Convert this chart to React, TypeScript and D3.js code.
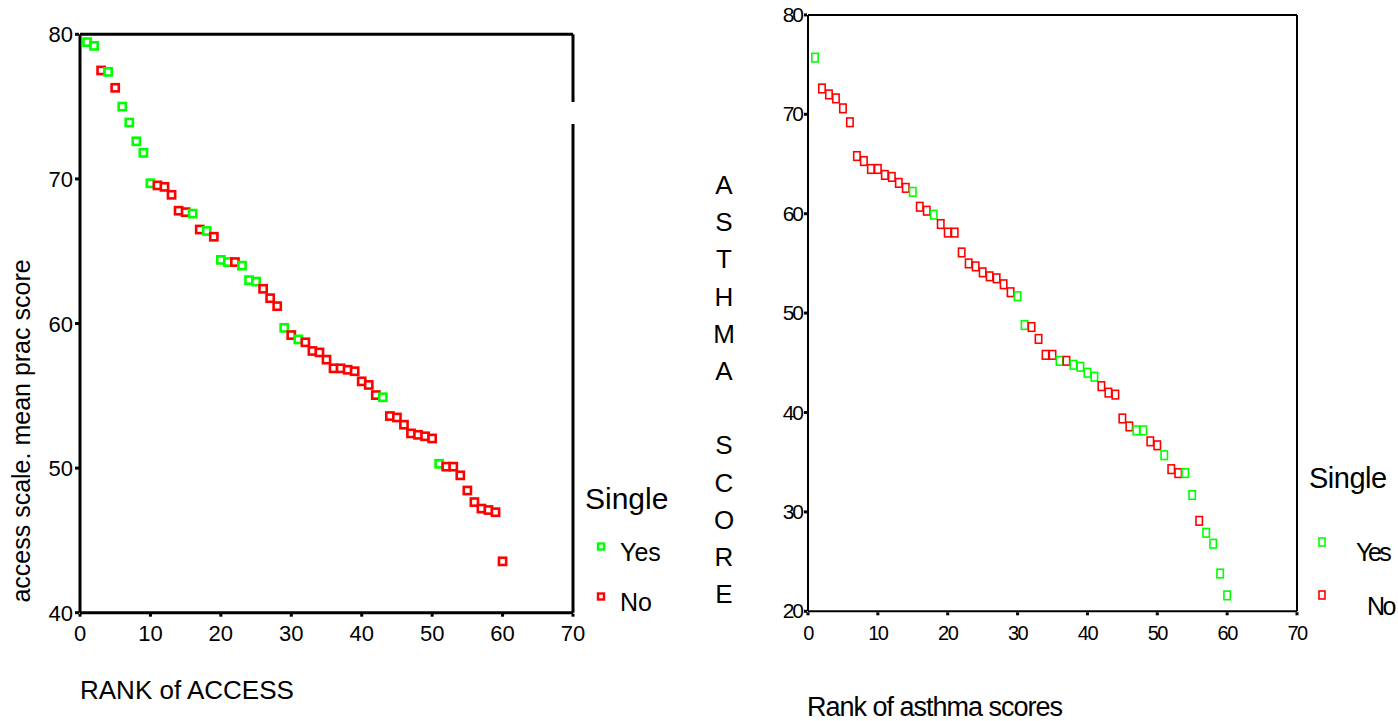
import React from "react";
import * as d3 from "d3";

// ---------- data ----------
const leftValues = [
  79.46, 79.2, 77.5, 77.4, 76.3, 75.0, 73.9, 72.6, 71.8, 69.7,
  69.55, 69.45, 68.9, 67.8, 67.7, 67.6, 66.5, 66.4, 66.0, 64.4,
  64.25, 64.25, 64.0, 63.0, 62.9, 62.4, 61.75, 61.2, 59.7, 59.2,
  58.9, 58.7, 58.1, 58.0, 57.5, 56.9, 56.9, 56.8, 56.7, 56.0,
  55.75, 55.05, 54.9, 53.6, 53.5, 53.0, 52.4, 52.3, 52.2, 52.05,
  50.3, 50.1, 50.1, 49.5, 48.45, 47.65, 47.2, 47.1, 46.95, 43.55,
];
const leftSingle = [
  "Yes", "Yes", "No", "Yes", "No", "Yes", "Yes", "Yes", "Yes", "Yes",
  "No", "No", "No", "No", "No", "Yes", "No", "Yes", "No", "Yes",
  "Yes", "No", "Yes", "Yes", "Yes", "No", "No", "No", "Yes", "No",
  "Yes", "No", "No", "No", "No", "No", "No", "No", "No", "No",
  "No", "No", "Yes", "No", "No", "No", "No", "No", "No", "No",
  "Yes", "No", "No", "No", "No", "No", "No", "No", "No", "No",
];
const rightValues = [
  75.7, 72.6, 72.0, 71.6, 70.6, 69.2, 65.8, 65.3, 64.5, 64.5,
  63.9, 63.7, 63.1, 62.6, 62.2, 60.7, 60.3, 59.9, 58.96, 58.1,
  58.1, 56.1, 55.0, 54.7, 54.1, 53.7, 53.5, 52.9, 52.1, 51.7,
  48.8, 48.6, 47.4, 45.8, 45.8, 45.2, 45.2, 44.8, 44.6, 44.0,
  43.6, 42.65, 42.0, 41.8, 39.4, 38.6, 38.2, 38.2, 37.1, 36.7,
  35.7, 34.3, 33.9, 33.9, 31.7, 29.1, 27.9, 26.8, 23.8, 21.6,
];
const rightSingle = [
  "Yes", "No", "No", "No", "No", "No", "No", "No", "No", "No",
  "No", "No", "No", "No", "Yes", "No", "No", "Yes", "No", "No",
  "No", "No", "No", "No", "No", "No", "No", "No", "No", "Yes",
  "Yes", "No", "No", "No", "No", "Yes", "No", "Yes", "Yes", "Yes",
  "Yes", "No", "No", "No", "No", "No", "Yes", "Yes", "No", "No",
  "Yes", "No", "No", "Yes", "Yes", "No", "Yes", "Yes", "Yes", "Yes",
];
const xTicks = [0, 10, 20, 30, 40, 50, 60, 70];
const leftYTicks = [40, 50, 60, 70, 80];
const rightYTicks = [20, 30, 40, 50, 60, 70, 80];
const legendItems = ["Yes", "No"];
const yAxisLetters = ["A", "S", "T", "H", "M", "A", "", "S", "C", "O", "R", "E"];

const colorOf = (g: string) => (g === "Yes" ? "#00ff00" : "#ff0000");
const FONT = "Arial, 'Liberation Sans', Helvetica, sans-serif";

export default function App() {
  // left chart scales
  const lx = d3.scaleLinear().domain([0, 70]).range([80, 573]);
  const ly = d3.scaleLinear().domain([40, 80]).range([612.7, 34.3]);
  // right chart scales
  const rx = d3.scaleLinear().domain([0, 70]).range([808, 1297]);
  const ry = d3.scaleLinear().domain([20, 80]).range([611.3, 14.9]);

  const lLeft = lx(0), lRight = lx(70), lTop = ly(80), lBottom = ly(40);
  const rLeft = rx(0), rRight = rx(70), rTop = ry(80), rBottom = ry(20);

  return (
    <svg
      width={1398}
      height={721}
      style={{ position: "absolute", left: 0, top: 0, background: "#fff" }}
      fontFamily={FONT}
    >
      <rect x={0} y={0} width={1398} height={721} fill="#fff" />

      {/* ---------------- LEFT CHART ---------------- */}
      <g>
        <line x1={lLeft} y1={lTop} x2={lRight} y2={lTop} stroke="#000" strokeWidth={3} />
        <line x1={lLeft} y1={lTop} x2={lLeft} y2={lBottom} stroke="#000" strokeWidth={3} />
        <line x1={lLeft} y1={lBottom} x2={lRight} y2={lBottom} stroke="#000" strokeWidth={3} />
        <line x1={lRight} y1={lTop} x2={lRight} y2={102} stroke="#000" strokeWidth={3} />
        <line x1={lRight} y1={124} x2={lRight} y2={lBottom} stroke="#000" strokeWidth={3} />

        {leftYTicks.map((t) => (
          <g key={"ly" + t}>
            <rect x={lLeft - 5} y={ly(t) - 1.5} width={4} height={3} fill="#000" />
            <text x={lLeft - 7} y={ly(t) + 8} fontSize={22} textAnchor="end" fill="#000">
              {t}
            </text>
          </g>
        ))}
        {xTicks.map((t) => (
          <g key={"lx" + t}>
            <rect x={lx(t) - 1.5} y={lBottom + 1} width={3} height={3} fill="#000" />
            <text x={lx(t)} y={641} fontSize={22} textAnchor="middle" fill="#000">
              {t}
            </text>
          </g>
        ))}

        {leftValues.map((v, i) => (
          <rect
            key={"lp" + i}
            x={lx(i + 1) - 3.6}
            y={ly(v) - 3.6}
            width={7.2}
            height={7.2}
            fill="#fff"
            stroke={colorOf(leftSingle[i])}
            strokeWidth={2.6}
          />
        ))}

        <text
          transform={`translate(30, 431) rotate(-90)`}
          fontSize={25}
          textAnchor="middle"
          fill="#000"
        >
          access scale. mean prac score
        </text>
        <text x={80} y={699} fontSize={26} fill="#000">
          RANK of ACCESS
        </text>

        {/* legend */}
        <text x={585} y={509} fontSize={30} fill="#000">
          Single
        </text>
        {legendItems.map((g, i) => (
          <g key={"ll" + g}>
            <rect
              x={601 - 3}
              y={546.5 + i * 50 - 3}
              width={6}
              height={6}
              fill="#fff"
              stroke={colorOf(g)}
              strokeWidth={2.4}
            />
            <text x={620} y={561 + i * 50} fontSize={25} fill="#000">
              {g}
            </text>
          </g>
        ))}
      </g>

      {/* ---------------- RIGHT CHART ---------------- */}
      <g>
        <line x1={rLeft} y1={rTop} x2={rRight} y2={rTop} stroke="#000" strokeWidth={2} />
        <line x1={rLeft} y1={rTop} x2={rLeft} y2={rBottom} stroke="#000" strokeWidth={2} />
        <line x1={rLeft} y1={rBottom} x2={rRight} y2={rBottom} stroke="#000" strokeWidth={2} />
        <line x1={rRight} y1={rTop} x2={rRight} y2={rBottom} stroke="#000" strokeWidth={2} />

        {rightYTicks.map((t) => (
          <g key={"ry" + t}>
            <rect x={rLeft - 4} y={ry(t) - 1.5} width={3} height={3} fill="#000" />
            <text
              x={rLeft - 6}
              y={ry(t) + 7}
              fontSize={21}
              textAnchor="end"
              letterSpacing={-2}
              fill="#000"
            >
              {t}
            </text>
          </g>
        ))}
        {xTicks.map((t) => (
          <g key={"rx" + t}>
            <rect x={rx(t) - 1.5} y={rBottom + 1} width={3} height={3} fill="#000" />
            <text
              x={rx(t)}
              y={640}
              fontSize={20}
              textAnchor="middle"
              letterSpacing={-1.5}
              fill="#000"
            >
              {t}
            </text>
          </g>
        ))}

        {rightValues.map((v, i) => (
          <rect
            key={"rp" + i}
            x={rx(i + 1) - 3.2}
            y={ry(v) - 4.3}
            width={6.4}
            height={8.6}
            fill="#fff"
            stroke={colorOf(rightSingle[i])}
            strokeWidth={1.6}
          />
        ))}

        {yAxisLetters.map((ch, i) => (
          <text
            key={"al" + i}
            x={724}
            y={194 + i * 37.2}
            fontSize={26}
            textAnchor="middle"
            fill="#000"
          >
            {ch}
          </text>
        ))}

        <text x={807} y={716} fontSize={27} letterSpacing={-1} fill="#000">
          Rank of asthma scores
        </text>

        {/* legend */}
        <text x={1309} y={488} fontSize={29} letterSpacing={-0.5} fill="#000">
          Single
        </text>
        {legendItems.map((g, i) => (
          <g key={"rl" + g}>
            <rect
              x={1322 - 3}
              y={542 + i * 53 - 4}
              width={6}
              height={8}
              fill="#fff"
              stroke={colorOf(g)}
              strokeWidth={1.6}
            />
            <text
              x={g === "Yes" ? 1356 : 1367}
              y={561 + i * 54}
              fontSize={25}
              letterSpacing={-2.5}
              fill="#000"
            >
              {g}
            </text>
          </g>
        ))}
      </g>
    </svg>
  );
}
